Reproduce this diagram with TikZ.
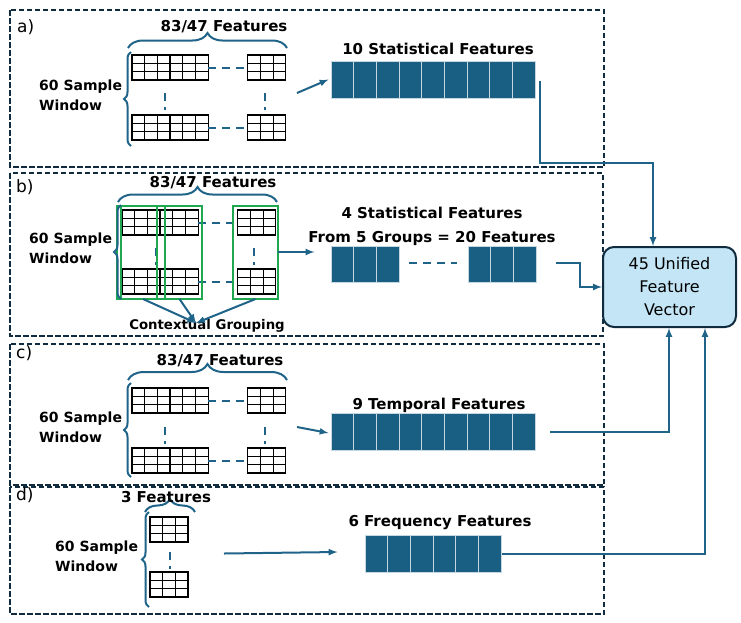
\documentclass[tikz,border=0pt]{standalone}
\usepackage{fontspec}
\setmainfont{DejaVu Sans}
\usepackage{tikz}
\usetikzlibrary{arrows,shapes,decorations.pathreplacing}
\definecolor{featblue}{HTML}{185F83}
\definecolor{linkblue}{HTML}{1F6488}
\definecolor{panelnavy}{HTML}{0F2B3D}
\definecolor{unifill}{HTML}{C3E5F5}
\definecolor{groupgreen}{HTML}{1FA84F}
\tikzstyle{panel}=[draw=panelnavy, line width=2pt, dash pattern=on 5.5pt off 2.5pt]
\tikzstyle{panel label}=[font=\fontsize{17}{20}\selectfont, anchor=west, inner sep=0pt]
\tikzstyle{heading}=[font=\fontsize{15}{24}\selectfont\bfseries, inner sep=0pt, align=center]
\tikzstyle{window label}=[font=\fontsize{14}{20}\selectfont\bfseries, inner sep=0pt, align=left, anchor=west]
\tikzstyle{feature cell}=[fill=featblue, draw=white!75!featblue, line width=1pt, minimum width=22.7pt, minimum height=37pt, inner sep=0pt]
\tikzstyle{unified}=[draw=panelnavy, fill=unifill, line width=2pt, rounded corners=11pt, minimum width=133pt, minimum height=80pt, align=center, font=\fontsize{16}{23}\selectfont]
\tikzstyle{link}=[draw=linkblue, line width=2pt]
\tikzstyle{arrow link}=[link, -latex]
\tikzstyle{skip}=[draw=linkblue, line width=2pt, dash pattern=on 8pt off 6pt]
\tikzstyle{group box}=[draw=groupgreen, line width=2pt]
\tikzstyle{cell}=[draw=black, line width=0.8pt]
\tikzset{curly/.style={draw=linkblue, line width=2pt, decorate, decoration={brace, amplitude=#1}}}
% small 3x3 block of table cells, top left corner at (#1,#2)
\newcommand{\cellgrid}[2]{%
	\foreach \col in {0,1,2}
	\foreach \row in {0,1,2}
	\draw[cell] ({#1+\col*12.7},{#2+\row*8.33}) rectangle ++(12.7,8.33);
	\draw[line width=1.3pt] (#1,#2) rectangle ++(38.1,25);}

\begin{document}
\begin{tikzpicture}[x=1pt, y=-1pt]
	\useasboundingbox (0,0) rectangle (741,622);
	
	% Panels
	\draw[panel] (10,10) rectangle (604,167);
	\draw[panel] (10,173) rectangle (603,336);
	\draw[panel] (10,344) rectangle (604,485);
	\draw[panel] (10,487) rectangle (604,614);
	\foreach \pos/\label/\name in {
		{(17,27)/la/a)}, {(16,187)/lb/b)}, {(16,353)/lc/c)}, {(16,495)/ld/d)}}
	\node[panel label] (\label) at \pos {\name};
	
	% Cell blocks of the sample windows
	\foreach \x/\y in {
		132/55, 170.1/55, 247.5/55, 132/115, 170.1/115, 247.5/115,
		122/210, 160.1/210, 237.5/210, 122/269, 160.1/269, 237.5/269,
		132/388, 170.1/388, 247.5/388, 132/448, 170.1/448, 247.5/448,
		150/517, 150/572}
	\cellgrid{\x}{\y};
	
	% Skipped rows and columns
	\foreach \y in {67.5, 127.5, 400.5, 460.5}
	\path[skip] (208.2,\y) -- (247.5,\y);
	\foreach \y in {222.5, 281.5}
	\path[skip] (198.2,\y) -- (237.5,\y);
	\foreach \x/\y in {165/93, 265/93, 156/248, 254/248, 165/427, 265/427, 170/552}
	\path[skip] (\x,\y) -- ++(0,17);
	
	% Contextual groups
	\draw[group box] (117,206) rectangle (157,299);
	\draw[group box] (121,206) rectangle (165,299);
	\draw[group box] (157,206) rectangle (202,299);
	\draw[group box] (233,206) rectangle (278,299);
	
	% Braces and their labels
	\draw[curly=15pt] (128,48) -- (287,48);
	\draw[curly=15pt] (118,202) -- (277,202);
	\draw[curly=16pt] (128,380) -- (287,380);
	\draw[curly=13pt] (145,512) -- (195,512);
	\draw[curly=7pt] (131,146) -- (131,52);
	\draw[curly=7pt] (121,299) -- (121,205);
	\draw[curly=7pt] (131,477) -- (131,383);
	\draw[curly=7pt] (149,607) -- (149,512);
	\foreach \pos/\label/\name in {
		{(224,27)/fa/{83/47 Features}}, {(213,183)/fb/{83/47 Features}},
		{(220,361)/fc/{83/47 Features}}, {(166,497)/fd/{3 Features}}}
	\node[heading] (\label) at \pos {\name};
	\foreach \pos/\label in {
		{(39,95)/wa}, {(29,248)/wb}, {(39,427)/wc}, {(55,556)/wd}}
	\node[window label] (\label) at \pos {60 Sample\\Window};
	
	% Feature vectors
	\foreach \name/\x/\y/\n in {sa/331/79.5/8, sc/331/431.5/8, sd/365/553.5/5}
	\foreach \i in {0,...,\n}
	\node[feature cell] (\name\i) at ({\x+11.35+\i*22.7},\y) {};
	\foreach \i in {0,1,2}
	\node[feature cell, minimum height=36pt] (sb\i) at ({331+11.35+\i*22.7},264) {};
	\foreach \i in {3,4,5}
	\node[feature cell, minimum height=36pt] (sb\i) at ({468+11.35+(\i-3)*22.7},264) {};
	\path[skip] (409,263) -- (457,263);
	
	\node[heading] (ha) at (438,49) {10 Statistical Features};
	\node[heading] (hb) at (432,226) {4 Statistical Features\\From 5 Groups = 20 Features};
	\node[heading] (hc) at (439,405) {9 Temporal Features};
	\node[heading] (hd) at (440,523) {6 Frequency Features};
	\node[heading, font=\fontsize{13.3}{16}\selectfont\bfseries] (cgt) at (207,326) {Contextual Grouping};
	
	\node[unified] (uni) at (669.5,287) {45 Unified\\Feature\\Vector};
	
	% Connect windows with feature vectors
	\coordinate (ga) at (297,93);
	\coordinate (gb) at (278,252);
	\coordinate (gc) at (297,427);
	\coordinate (gd) at (224,553.5);
	\path[arrow link] (ga) -- ([xshift=-2pt]sa0.west);
	\path[arrow link] (gb) -- ([xshift=-16pt, yshift=12pt]sb0.west);
	\path[arrow link] (gc) -- ([xshift=-2pt, yshift=-1.5pt]sc0.west);
	\path[arrow link] (gd) -- ([xshift=-27pt, yshift=1.5pt]sd0.west);
	
	% Contextual grouping arrows
	\coordinate (cg) at (196,323);
	\foreach \x in {143, 179.5, 255.5}
	\path[arrow link] (\x,299) -- (cg);
	
	% Connect feature vectors with the unified vector
	\path[arrow link] ([xshift=4pt, yshift=-1pt]sa8.east) -- ++(0,82) -| ([xshift=-16.5pt]uni.north);
	\path[arrow link] ([xshift=19pt, yshift=1pt]sb5.east) -- ++(24,0) |- (uni.west);
	\path[arrow link] ([xshift=14pt]sc8.east) -| ([xshift=-0.5pt]uni.south);
	\path[arrow link] (sd5.east) -| ([xshift=35.5pt]uni.south);
\end{tikzpicture}
\end{document}
